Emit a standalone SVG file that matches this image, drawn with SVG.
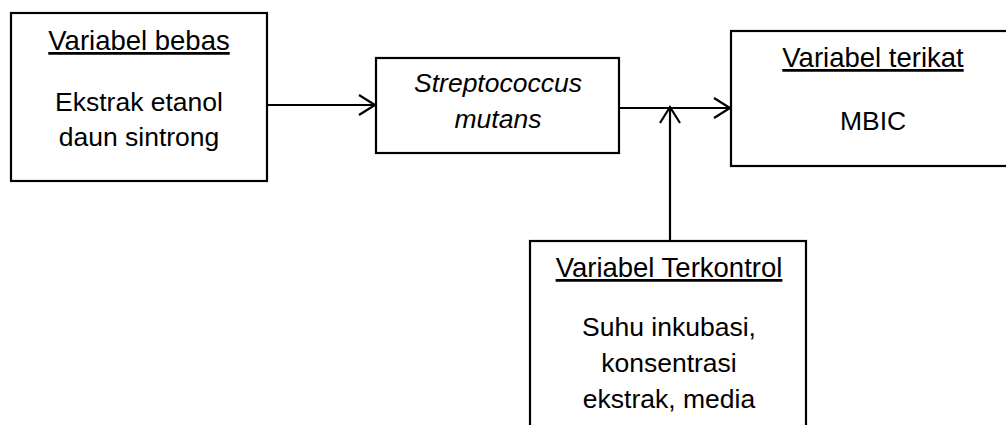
<svg xmlns="http://www.w3.org/2000/svg" width="1006" height="425" viewBox="0 0 1006 425">
<style>
.box{fill:#fff;stroke:#000;stroke-width:2.2}
.t{font-family:"Liberation Sans",Arial,sans-serif;font-size:26.5px;fill:#000;text-anchor:middle}
.h{text-decoration:underline;font-size:27.5px}
.i{font-style:italic}
.c{fill:none;stroke:#000;stroke-width:2.2}
</style>
<defs>
<marker id="arr" markerWidth="20" markerHeight="24" refX="17" refY="11" orient="auto" markerUnits="userSpaceOnUse">
<path d="M1,1 L17,11 L1,21" fill="none" stroke="#000" stroke-width="2.2"/>
</marker>
</defs>
<g id="connectors">
<line class="c" x1="267" y1="105" x2="375" y2="105" marker-end="url(#arr)"/>
<line class="c" x1="619" y1="108" x2="730" y2="108" marker-end="url(#arr)"/>
<line class="c" x1="670" y1="241" x2="670" y2="107" marker-end="url(#arr)"/>
</g>
<g id="bebas">
<rect class="box" x="11" y="13" width="256" height="168"/>
<text class="t h" x="139" y="50">Variabel bebas</text>
<text class="t" x="139" y="111">Ekstrak etanol</text>
<text class="t" x="139" y="146">daun sintrong</text>
</g>
<g id="strep">
<rect class="box" x="376" y="58" width="243" height="95"/>
<text class="t i" x="498" y="92">Streptococcus</text>
<text class="t i" x="498" y="128">mutans</text>
</g>
<g id="terikat">
<rect class="box" x="731" y="31" width="290" height="135"/>
<text class="t h" x="873" y="67">Variabel terikat</text>
<text class="t" x="873" y="130">MBIC</text>
</g>
<g id="terkontrol">
<rect class="box" x="530" y="241" width="276" height="200"/>
<text class="t h" x="669" y="277">Variabel Terkontrol</text>
<text class="t" x="669" y="336">Suhu inkubasi,</text>
<text class="t" x="669" y="372">konsentrasi</text>
<text class="t" x="669" y="408">ekstrak, media</text>
</g>
</svg>
